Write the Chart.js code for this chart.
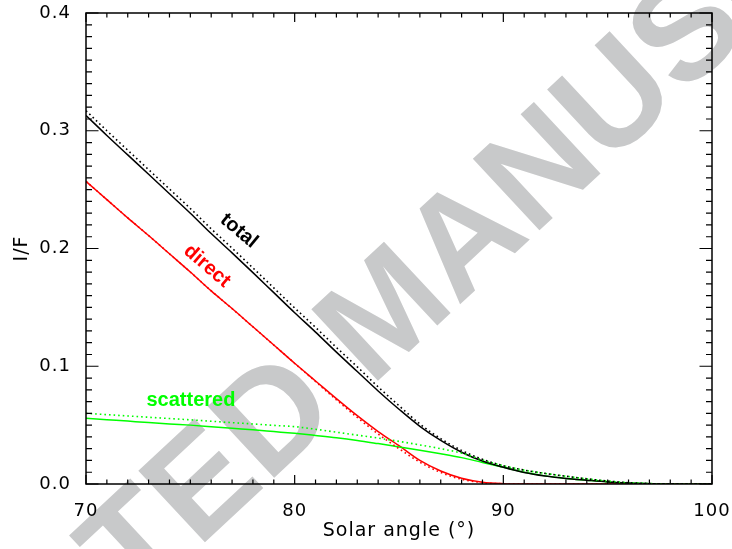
<!DOCTYPE html>
<html>
<head>
<meta charset="utf-8">
<script src="https://cdn.jsdelivr.net/npm/chart.js@4.4.1/dist/chart.umd.min.js"></script>
<style>
  html, body { margin: 0; padding: 0; background: #fff; }
  canvas { display: block; }
</style>
</head>
<body>
<canvas id="irradianceChart" width="732" height="549"></canvas>
<script>
// --- data (I/F vs solar angle) ---
const angles = [70, 71, 72, 73, 74, 75, 76, 77, 78, 79, 80, 81, 82, 83, 84, 85,
                86, 87, 88, 89, 90, 91, 92, 93, 94, 95, 96, 97, 98, 99, 100];

const totalSolid = [0.313, 0.296, 0.2795, 0.263, 0.2465, 0.230, 0.2127, 0.1963, 0.1795, 0.1625, 0.1455,
                    0.129, 0.112, 0.0955, 0.079, 0.0635, 0.049, 0.037, 0.027, 0.0195, 0.0142,
                    0.0098, 0.0068, 0.0047, 0.0032, 0.0018, 0.0008, 0.0003, 0, 0, 0];
const totalDotted = [0.317, 0.300, 0.2835, 0.267, 0.2505, 0.234, 0.2167, 0.2003, 0.1835, 0.1665, 0.1495,
                     0.133, 0.116, 0.0995, 0.0825, 0.0665, 0.051, 0.0385, 0.0285, 0.021, 0.0155,
                     0.0118, 0.0090, 0.0066, 0.0044, 0.0025, 0.0011, 0.0004, 0, 0, 0];

const directSolid = [0.257, 0.2415, 0.226, 0.211, 0.1955, 0.180, 0.164, 0.149, 0.1335, 0.118, 0.1025,
                     0.0875, 0.0725, 0.058, 0.0445, 0.0325, 0.020, 0.011, 0.0048, 0.0015, 0.0003,
                     0, 0, 0, 0, 0, 0, 0, 0, 0, 0];
const directDotted = [0.257, 0.2415, 0.226, 0.211, 0.1955, 0.180, 0.164, 0.149, 0.1335, 0.118, 0.1025,
                      0.087, 0.0715, 0.0565, 0.0425, 0.030, 0.0185, 0.0098, 0.0040, 0.0012, 0.0002,
                      0, 0, 0, 0, 0, 0, 0, 0, 0, 0];

const scatteredSolid = [0.0558, 0.0546, 0.0534, 0.0522, 0.051, 0.050, 0.0487, 0.0473, 0.046, 0.0445, 0.043,
                        0.0412, 0.0393, 0.037, 0.0343, 0.0315, 0.0287, 0.0257, 0.0224, 0.0183, 0.0143,
                        0.0100, 0.0069, 0.0047, 0.0032, 0.0018, 0.0008, 0.0003, 0.0001, 0, 0];
const scatteredDotted = [0.060, 0.0589, 0.0578, 0.0567, 0.0556, 0.0545, 0.0533, 0.0521, 0.051, 0.0498, 0.0487,
                         0.0465, 0.044, 0.0415, 0.039, 0.0362, 0.0332, 0.030, 0.0262, 0.0205, 0.0155,
                         0.0118, 0.0090, 0.0066, 0.0044, 0.0025, 0.0011, 0.0004, 0, 0, 0];

// axis ticks
const xMajorTicks = [70, 80, 90, 100];
const yMajorTicks = [0.0, 0.1, 0.2, 0.3, 0.4];

// curve labels (data position + rotation in degrees)
const curveLabels = [
    { text: 'total',     x: 77.33, y: 0.215,  angle: 40, color: '#000000' },
    { text: 'direct',    x: 75.80, y: 0.185,  angle: 41, color: '#ff0000' },
    { text: 'scattered', x: 75.03, y: 0.0713, angle: 0,  color: '#00ff00' }
];

const WATERMARK = 'ACCEPTED MANUSCRIPT';

function toPoints(values) {
    return angles.map((a, i) => ({ x: a, y: values[i] }));
}

// gray watermark behind everything, also sets the wide letter spacing of the axis text
const watermarkPlugin = {
    id: 'watermark',
    beforeDraw(chart) {
        const ctx = chart.ctx;
        const size = 142;
        ctx.save();
        ctx.letterSpacing = '0px';
        ctx.font = 'bold ' + size + 'px "Liberation Sans", Arial, sans-serif';
        ctx.fillStyle = '#c8c9ca';
        ctx.textBaseline = 'alphabetic';
        ctx.textAlign = 'left';
        // anchor: centre of the letter "D"
        ctx.translate(270, 412);
        ctx.rotate(-43 * Math.PI / 180);
        const before = ctx.measureText('ACCEPTE').width;
        const dWidth = ctx.measureText('D').width;
        const cap = 0.716 * size;
        ctx.fillText(WATERMARK, -(before + dWidth / 2), cap / 2);
        ctx.restore();
        ctx.letterSpacing = '1px';
    }
};

// IDL-style frame with inward ticks on all four sides + curve labels
const framePlugin = {
    id: 'idlFrame',
    afterDraw(chart) {
        const ctx = chart.ctx;
        const area = chart.chartArea;
        const xs = chart.scales.x;
        const ys = chart.scales.y;

        ctx.save();
        ctx.strokeStyle = '#000';
        ctx.lineWidth = 1.5;
        ctx.strokeRect(area.left, area.top, area.right - area.left, area.bottom - area.top);

        ctx.lineWidth = 1.2;
        ctx.beginPath();
        // x ticks (bottom and top)
        for (let v = 70; v <= 100; v++) {
            const px = xs.getPixelForValue(v);
            const len = xMajorTicks.includes(v) ? 9 : 4.5;
            ctx.moveTo(px, area.bottom);
            ctx.lineTo(px, area.bottom - len);
            ctx.moveTo(px, area.top);
            ctx.lineTo(px, area.top + len);
        }
        // y ticks (left and right)
        for (let k = 0; k <= 40; k++) {
            const v = k / 100;
            const py = ys.getPixelForValue(v);
            const len = (k % 10 === 0) ? 12.5 : 6;
            ctx.moveTo(area.left, py);
            ctx.lineTo(area.left + len, py);
            ctx.moveTo(area.right, py);
            ctx.lineTo(area.right - len, py);
        }
        ctx.stroke();

        // curve labels
        ctx.letterSpacing = '0px';
        ctx.font = 'bold 20px "Liberation Sans", Arial, sans-serif';
        ctx.textAlign = 'center';
        ctx.textBaseline = 'middle';
        curveLabels.forEach(lbl => {
            const px = xs.getPixelForValue(lbl.x);
            const py = ys.getPixelForValue(lbl.y);
            ctx.save();
            ctx.translate(px, py);
            ctx.rotate(lbl.angle * Math.PI / 180);
            ctx.fillStyle = lbl.color;
            ctx.fillText(lbl.text, 0, 0);
            ctx.restore();
        });
        ctx.restore();
    }
};

function lineSet(label, values, color, dotted) {
    return {
        label: label,
        data: toPoints(values),
        borderColor: color,
        backgroundColor: color,
        borderWidth: dotted ? 1.6 : 1.5,
        borderDash: dotted ? [1.6, 3] : [],
        pointRadius: 0,
        fill: false,
        cubicInterpolationMode: 'monotone'
    };
}

const tickFont = { family: '"DejaVu Sans", sans-serif', size: 18 };
const titleFont = { family: '"DejaVu Sans", sans-serif', size: 19 };

new Chart(document.getElementById('irradianceChart'), {
    type: 'line',
    data: {
        datasets: [
            lineSet('total (dotted)', totalDotted, '#000000', true),
            lineSet('scattered (dotted)', scatteredDotted, '#00ff00', true),
            lineSet('direct (dotted)', directDotted, '#ff0000', true),
            lineSet('total', totalSolid, '#000000', false),
            lineSet('scattered', scatteredSolid, '#00ff00', false),
            lineSet('direct', directSolid, '#ff0000', false)
        ]
    },
    options: {
        responsive: false,
        animation: false,
        devicePixelRatio: 1,
        layout: { padding: { top: 13, right: 20, bottom: 0, left: 0 } },
        plugins: {
            legend: { display: false },
            tooltip: { enabled: false }
        },
        scales: {
            x: {
                type: 'linear',
                min: 70,
                max: 100,
                grid: { display: false },
                border: { display: false },
                ticks: {
                    stepSize: 10,
                    color: '#000',
                    font: tickFont,
                    padding: 9,
                    maxRotation: 0,
                    callback: v => xMajorTicks.includes(v) ? String(v) : ''
                },
                title: {
                    display: true,
                    text: 'Solar angle (°)',
                    color: '#000',
                    font: titleFont,
                    padding: { top: 0, bottom: 7 }
                },
                afterFit: scale => {
                    scale.height = 65;
                    scale.paddingLeft = 0;
                    scale.paddingRight = 0;
                }
            },
            y: {
                min: 0,
                max: 0.4,
                grid: { display: false },
                border: { display: false },
                ticks: {
                    stepSize: 0.1,
                    color: '#000',
                    font: tickFont,
                    padding: 7,
                    callback: v => yMajorTicks.some(t => Math.abs(t - v) < 1e-9) ? v.toFixed(1) : ''
                },
                title: {
                    display: true,
                    text: 'I/F',
                    color: '#000',
                    font: titleFont,
                    padding: { top: 11, bottom: 0 }
                },
                afterFit: scale => {
                    scale.width = 86;
                    scale.paddingTop = 0;
                    scale.paddingBottom = 0;
                }
            }
        }
    },
    plugins: [watermarkPlugin, framePlugin]
});
</script>
</body>
</html>
